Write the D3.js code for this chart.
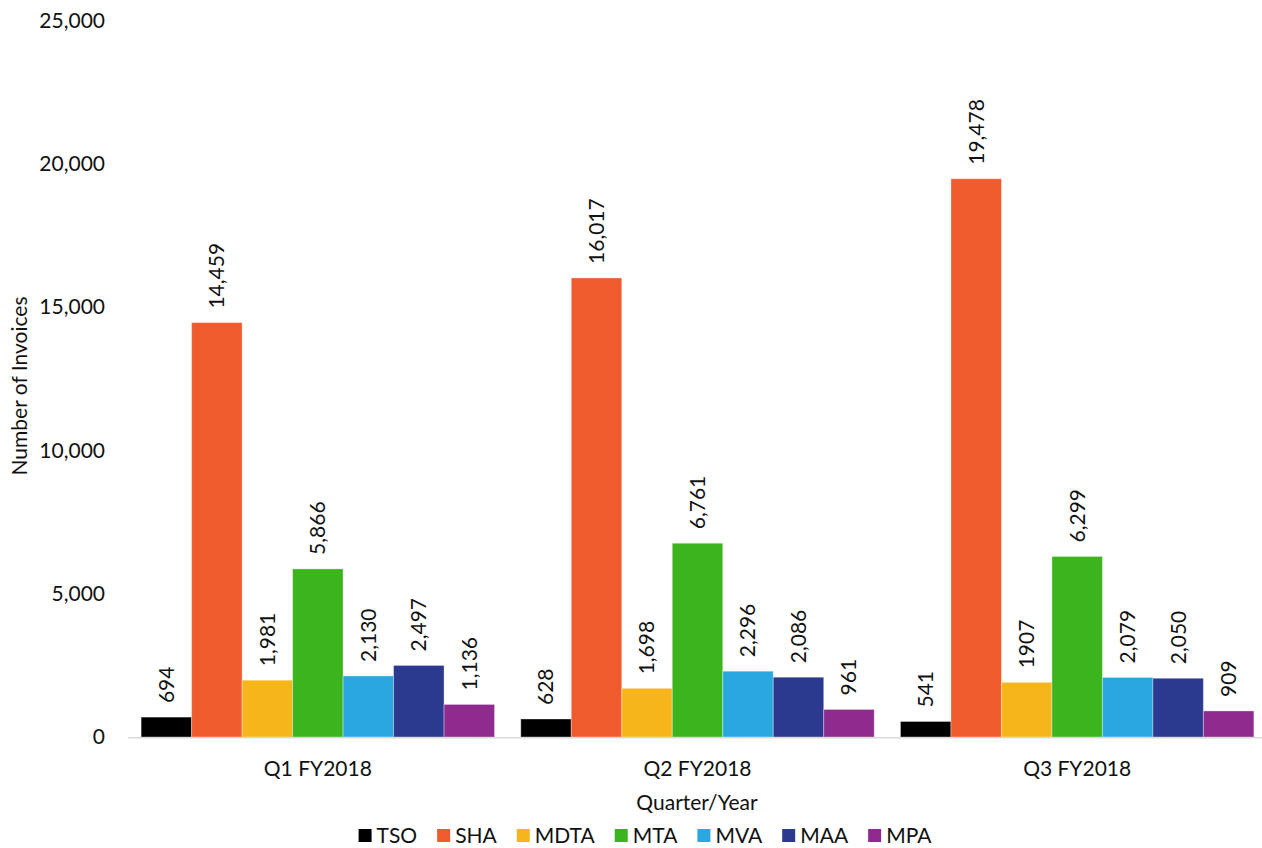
<!DOCTYPE html>
<html>
<head>
<meta charset="utf-8">
<script src="https://cdn.jsdelivr.net/npm/d3@7"></script>
<style>
  body { margin: 0; background: #fff; }
  svg text { font-family: Lato, sans-serif; fill: #111; }
</style>
</head>
<body>
<svg id="chart" width="1262" height="848"></svg>
<script>
var quarters = ["Q1 FY2018", "Q2 FY2018", "Q3 FY2018"];
var series = ["TSO", "SHA", "MDTA", "MTA", "MVA", "MAA", "MPA"];
var colors = ["#000000", "#f15a2c", "#f7b51c", "#3bb41e", "#29a8e0", "#2b3990", "#8f2a8e"];

// values per quarter, same order as series
var q1Values = [694, 14459, 1981, 5866, 2130, 2497, 1136];
var q2Values = [628, 16017, 1698, 6761, 2296, 2086, 961];
var q3Values = [541, 19478, 1907, 6299, 2079, 2050, 909];

// labels as printed (one of them has no thousands separator)
var q1Labels = ["694", "14,459", "1,981", "5,866", "2,130", "2,497", "1,136"];
var q2Labels = ["628", "16,017", "1,698", "6,761", "2,296", "2,086", "961"];
var q3Labels = ["541", "19,478", "1907", "6,299", "2,079", "2,050", "909"];

var yTicks = [0, 5000, 10000, 15000, 20000, 25000];

var allValues = [q1Values, q2Values, q3Values];
var allLabels = [q1Labels, q2Labels, q3Labels];

var svg = d3.select("#chart");
var fs = "21px";

var x0 = d3.scaleBand().domain(quarters).range([128, 1267]);
var x1 = d3.scaleBand().domain(series).range([0, x0.bandwidth()]).paddingOuter(0.26);
var y = d3.scaleLinear().domain([0, 25000]).range([737, 20.5]);
var color = d3.scaleOrdinal().domain(series).range(colors);

// y tick labels
svg.append("g").selectAll("text").data(yTicks).join("text")
  .attr("x", 105)
  .attr("y", d => y(d))
  .attr("dy", "0.35em")
  .attr("text-anchor", "end")
  .style("font-size", fs)
  .text(d3.format(","));

// bars
var groups = svg.append("g").selectAll("g").data(quarters).join("g")
  .attr("transform", d => "translate(" + x0(d) + ",0)");

groups.selectAll("rect")
  .data((q, i) => series.map((s, j) => ({ s: s, v: allValues[i][j], label: allLabels[i][j] })))
  .join("rect")
  .attr("x", d => x1(d.s))
  .attr("width", x1.bandwidth())
  .attr("y", d => y(d.v))
  .attr("height", d => y(0) - y(d.v))
  .attr("fill", d => color(d.s))
  .attr("stroke", "#ffffff")
  .attr("stroke-opacity", 0.35)
  .attr("stroke-width", 1);

groups.selectAll("text")
  .data((q, i) => series.map((s, j) => ({ s: s, v: allValues[i][j], label: allLabels[i][j] })))
  .join("text")
  .attr("transform", d => "translate(" + (x1(d.s) + x1.bandwidth() / 2) + "," + (y(d.v) - 14) + ") rotate(-90)")
  .attr("dy", "0.35em")
  .attr("text-anchor", "start")
  .style("font-size", fs)
  .text(d => d.label);

// x axis line
svg.append("line")
  .attr("x1", 128).attr("x2", 1262)
  .attr("y1", y(0) + 0.75).attr("y2", y(0) + 0.75)
  .attr("stroke", "#d9d9d9").attr("stroke-width", 1.5);

// category labels
svg.append("g").selectAll("text").data(quarters).join("text")
  .attr("x", d => x0(d) + x0.bandwidth() / 2)
  .attr("y", 769)
  .attr("dy", "0.35em")
  .attr("text-anchor", "middle")
  .style("font-size", fs)
  .text(d => d);

// axis titles
svg.append("text")
  .attr("x", 697).attr("y", 803)
  .attr("dy", "0.35em")
  .attr("text-anchor", "middle")
  .style("font-size", fs)
  .text("Quarter/Year");

svg.append("text")
  .attr("transform", "translate(20,386) rotate(-90)")
  .attr("dy", "0.35em")
  .attr("text-anchor", "middle")
  .style("font-size", fs)
  .text("Number of Invoices");

// legend, centred on the reference's legend centre
var legend = svg.append("g");
var lx = 0;
series.forEach((s, i) => {
  legend.append("rect")
    .attr("x", lx).attr("y", 829)
    .attr("width", 13).attr("height", 13)
    .attr("fill", colors[i]);
  var t = legend.append("text")
    .attr("x", lx + 18).attr("y", 836)
    .attr("dy", "0.35em")
    .style("font-size", fs)
    .text(s);
  lx += 18 + t.node().getComputedTextLength() + (i < series.length - 1 ? 20 : 0);
});
legend.attr("transform", "translate(" + (645 - lx / 2) + ",0)");
</script>
</body>
</html>
